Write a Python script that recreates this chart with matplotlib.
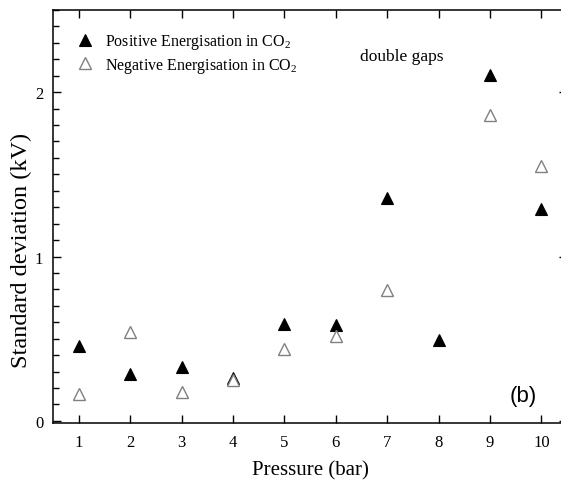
import matplotlib
matplotlib.use("Agg")
import matplotlib.pyplot as plt
from matplotlib.ticker import MultipleLocator

pressure_pos = [1, 2, 3, 4, 5, 6, 7, 8, 9, 10]
std_pos = [0.458, 0.286, 0.325, 0.262, 0.59, 0.584, 1.356, 0.489, 2.107, 1.287]
pressure_neg = [1, 2, 3, 4, 5, 6, 7, 9, 10]
std_neg = [0.164, 0.54, 0.178, 0.25, 0.438, 0.519, 0.798, 1.859, 1.551]
x_ticks = [1, 2, 3, 4, 5, 6, 7, 8, 9, 10]
y_ticks = [0, 1, 2]

plt.rcParams['font.family'] = ['Liberation Serif', 'DejaVu Serif']
plt.rcParams['mathtext.fontset'] = 'custom'
plt.rcParams['mathtext.rm'] = 'Liberation Serif'

fig = plt.figure(figsize=(5.61, 4.89), dpi=100)
ax = fig.add_axes([53/561, 1-423.5/489, (567-53)/561, (423.5-11)/489])

ax.plot(pressure_pos, std_pos, linestyle='none', marker='^', ms=8.5,
        mfc='black', mec='black', mew=0.8, label='Positive Energisation in CO$_2$')
ax.plot(pressure_neg, std_neg, linestyle='none', marker='^', ms=8.5,
        mfc='white', mec='#808080', mew=1.0, label='Negative Energisation in CO$_2$')

ax.set_xlim(0.5, 10.5)
ax.set_ylim(-0.01, 2.5)
ax.set_xticks(x_ticks)
ax.set_yticks(y_ticks)
ax.yaxis.set_minor_locator(MultipleLocator(0.1))
ax.tick_params(axis='both', which='major', direction='in', length=6, width=1,
               labelsize=12, top=True, right=True)
ax.tick_params(axis='y', which='minor', direction='in', length=4, width=1, right=False)
ax.tick_params(axis='x', which='major', pad=8)
ax.tick_params(axis='y', which='major', pad=7)
for s in ax.spines.values():
    s.set_linewidth(1.1)

ax.set_xlabel('Pressure (bar)', fontsize=15, labelpad=8)
ax.set_ylabel('Standard deviation (kV)', fontsize=17.5, va='center')
ax.yaxis.set_label_coords(-0.062, 0.42)

ax.legend(loc='upper left', bbox_to_anchor=(0.0, 0.985), frameon=False, fontsize=11.5,
          handletextpad=0.25, borderaxespad=0.5, labelspacing=0.3, borderpad=0.5)
ax.text(0.597, 0.888, 'double gaps', transform=ax.transAxes, fontsize=12.5, va='center')
ax.text(0.888, 0.065, '(b)', transform=ax.transAxes, fontsize=16,
        family='Liberation Sans', va='center')

fig.savefig('out.png', dpi=100)
